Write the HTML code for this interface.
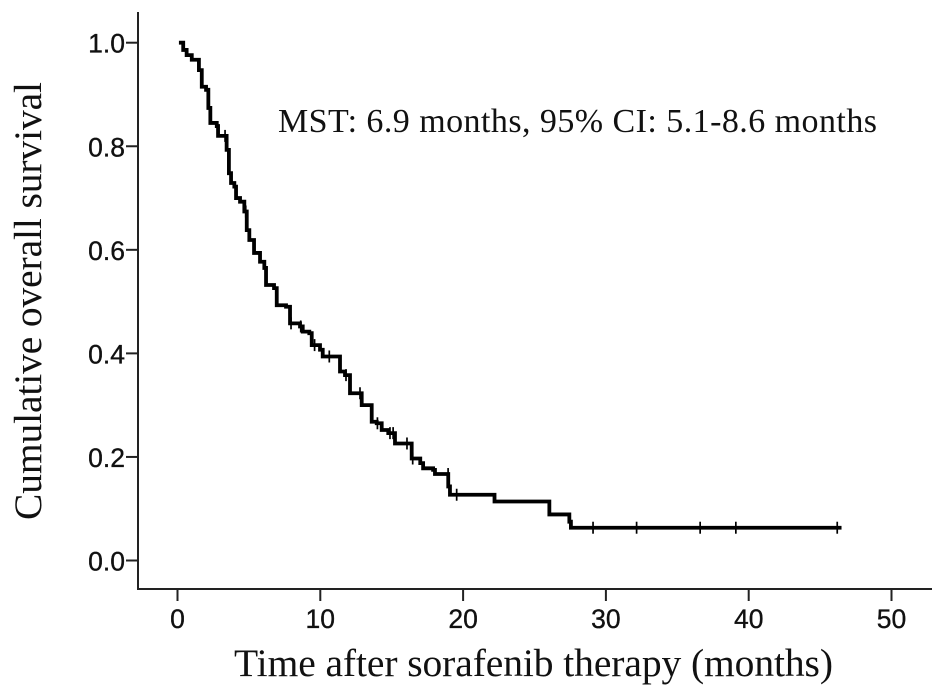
<!DOCTYPE html>
<html lang="en">
<head>
<meta charset="utf-8">
<title>Cumulative overall survival</title>
<style>
html,body{margin:0;padding:0;background:#fff;width:945px;height:697px;overflow:hidden}
svg{display:block}
.tick{font-family:"Liberation Sans",Arial,sans-serif;font-size:26.5px;fill:#111;stroke:#111;stroke-width:.35px}
.serif{font-family:"Liberation Serif","Times New Roman",serif;fill:#111}
</style>
</head>
<body>
<svg id="chart" xmlns="http://www.w3.org/2000/svg" width="945" height="697" viewBox="0 0 945 697">
  <rect x="0" y="0" width="945" height="697" fill="#fff"/>
  <g id="axes"></g>
  <g id="series"></g>
  <text class="serif" x="278" y="132" font-size="34" textLength="599" lengthAdjust="spacing">MST: 6.9 months, 95% CI: 5.1-8.6 months</text>
  <text class="serif" x="234" y="676" font-size="39.5" textLength="599" lengthAdjust="spacing">Time after sorafenib therapy (months)</text>
  <text class="serif" transform="translate(41,520) rotate(-90)" x="0" y="0" font-size="39.5" textLength="438" lengthAdjust="spacing">Cumulative overall survival</text>
</svg>
<script>
var xTicks = [0, 10, 20, 30, 40, 50];
var yTicks = [0.0, 0.2, 0.4, 0.6, 0.8, 1.0];
var eventTimes = [0.1,0.4,0.64,1.0,1.5,1.7,2.0,2.16,2.3,2.75,2.84,3.44,3.6,3.75,3.98,4.1,4.38,4.68,4.85,5.03,5.36,5.78,6.08,6.2,6.76,6.95,7.6,7.88,8.58,8.77,9.23,9.4,9.98,10.17,11.38,11.73,12.08,12.9,13.6,13.95,14.3,14.76,15.23,16.4,17.0,17.2,17.9,18.03,18.96,19.08,22.2,26.04,27.44,27.55];
var survivalValues = [1.0,0.986,0.976,0.967,0.947,0.915,0.909,0.874,0.845,0.839,0.82,0.793,0.748,0.729,0.722,0.70,0.693,0.674,0.638,0.619,0.594,0.577,0.565,0.532,0.526,0.493,0.49,0.458,0.452,0.442,0.439,0.416,0.407,0.394,0.365,0.358,0.323,0.30,0.268,0.265,0.252,0.246,0.226,0.197,0.188,0.178,0.175,0.167,0.143,0.127,0.114,0.089,0.075,0.0633];
var censorTimes = [3.33,4.78,7.95,8.63,9.6,10.63,11.8,12.78,14.0,14.88,15.1,16.07,16.47,18.95,19.55,29.1,32.15,36.6,39.1,46.2];
var lastFollowUp = 46.5;

var NS = 'http://www.w3.org/2000/svg';
var axesGroup = document.getElementById('axes');
var seriesGroup = document.getElementById('series');

function xScale(t) { return 177.5 + t * 14.28; }
function yScale(s) { return 560.5 - s * 517.8; }

function make(parent, tag, attrs) {
  var el = document.createElementNS(NS, tag);
  for (var k in attrs) el.setAttribute(k, attrs[k]);
  parent.appendChild(el);
  return el;
}
function survivalAt(t) {
  var s = 1;
  for (var i = 0; i < eventTimes.length; i++) {
    if (eventTimes[i] <= t) s = survivalValues[i];
  }
  return s;
}

var yLine = make(axesGroup, 'line', {x1:138, y1:12, x2:138, y2:590, stroke:'#222', 'stroke-width':2});


var xLine = make(axesGroup, 'line', {x1:137, y1:589, x2:932, y2:589, stroke:'#222', 'stroke-width':2});



xTicks.forEach(function (v) {
  var x = xScale(v);
  var tick = make(axesGroup, 'line', {x1:x, y1:589, x2:x, y2:601, stroke:'#222', 'stroke-width':2});
  
  
  var label = make(axesGroup, 'text', {x:x, y:628, 'text-anchor':'middle', 'class':'tick'});
  
  
  label.textContent = String(v);
});

yTicks.forEach(function (v) {
  var y = yScale(v);
  var tick = make(axesGroup, 'line', {x1:126, y1:y, x2:138, y2:y, stroke:'#222', 'stroke-width':2});
  
  
  var label = make(axesGroup, 'text', {x:125, y:y + 10, 'text-anchor':'end', 'class':'tick'});
  
  
  label.textContent = v.toFixed(1);
});

var d = 'M' + xScale(eventTimes[0]) + ' ' + yScale(survivalValues[0]);
for (var i = 1; i < eventTimes.length; i++) {
  d += 'H' + xScale(eventTimes[i]) + 'V' + yScale(survivalValues[i]);
}
d += 'H' + xScale(lastFollowUp);
var curve = make(seriesGroup, 'path', {d:d, fill:'none', stroke:'#000', 'stroke-width':3.8, 'stroke-linejoin':'miter'});



censorTimes.forEach(function (t) {
  var x = xScale(t);
  var y = yScale(survivalAt(t));
  var mark = make(seriesGroup, 'line', {x1:x, y1:y - 6, x2:x, y2:y + 6, stroke:'#000', 'stroke-width':1.7});
  
  
});
</script>
</body>
</html>
